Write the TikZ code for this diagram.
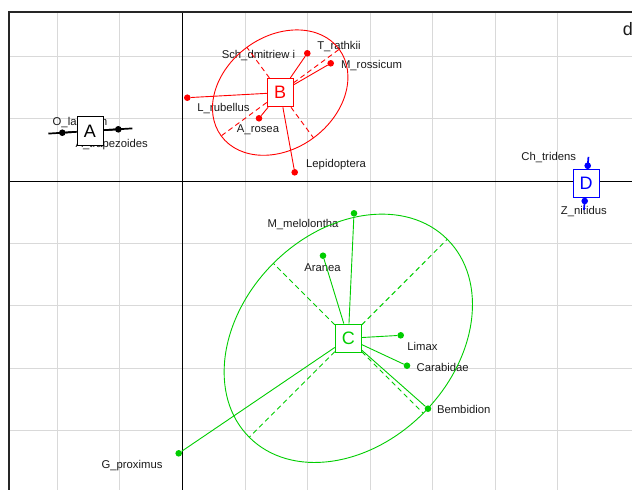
\documentclass[tikz,border=0pt]{standalone}
\usepackage{fontspec}
\setmainfont{Liberation Sans}
\definecolor{cred}{HTML}{FF0000}
\definecolor{cgreen}{HTML}{00CD00}
\definecolor{cblue}{HTML}{0000FF}
\definecolor{cgrid}{HTML}{D9D9D9}
\definecolor{cframe}{HTML}{262626}
\definecolor{ctext}{HTML}{1A1A1A}
\begin{document}
\begin{tikzpicture}[x=1pt,y=-1pt,
  gridl/.style={draw=cgrid,line width=1pt},
  axisl/.style={draw=black,line width=1pt},
  framel/.style={draw=cframe,line width=2pt},
  lbl/.style={anchor=base,inner sep=0pt,text=ctext,font=\fontsize{11.3}{12}\selectfont},
  pt/.style={circle,inner sep=0pt,minimum size=6.6pt},
  spk/.style={line width=0.9pt},
  thk/.style={line width=1.7pt},
  axd/.style={line width=0.9pt,dash pattern=on 5pt off 3.5pt},
  ell/.style={line width=0.9pt},
  grpbox/.style={draw,fill=white,line width=0.9pt,minimum width=26pt,minimum height=28.5pt,inner sep=0pt,font=\fontsize{18}{18}\selectfont}
]
\useasboundingbox (0,0) rectangle (632,490);
% grid
\foreach \x in {57.5,119.8,245,307.6,370,432.5,495,557.6}
  \draw[gridl] (\x,11.5) -- (\x,490);
\foreach \y in {56.5,118.5,243.4,305.8,368.2,430.6}
  \draw[gridl] (9,\y) -- (632,\y);
% axes
\draw[axisl] (182.2,11.5) -- (182.2,490);
\draw[axisl] (9,181) -- (632,181);
% frame
\draw[framel] (9,490) -- (9,11.5) -- (632,11.5);
\node[anchor=base west,inner sep=0pt,text=ctext,font=\fontsize{18}{18}\selectfont] (dlab) at (622.7,35) {d};

% labels
\node[lbl] (lOl) at (80,125) {O\_lacteum};
\node[lbl] (lAt) at (111.7,147.3) {A\_trapezoides};
\node[lbl] (lSd) at (258.5,58.3) {Sch\_dmitriew i};
\node[lbl] (lTr) at (339,49) {T\_rathkii};
\node[lbl] (lMr) at (371.5,68) {M\_rossicum};
\node[lbl] (lLr) at (223.5,111.7) {L\_rubellus};
\node[lbl] (lAr) at (258,132) {A\_rosea};
\node[lbl] (lLe) at (336,167.3) {Lepidoptera};
\node[lbl] (lCh) at (548.7,160.7) {Ch\_tridens};
\node[lbl] (lZn) at (583.8,214.7) {Z\_nitidus};
\node[lbl] (lMm) at (303,227.3) {M\_melolontha};
\node[lbl] (lAn) at (322.5,271) {Aranea};
\node[lbl] (lLi) at (422.5,350.7) {Limax};
\node[lbl] (lCa) at (442.7,371.7) {Carabidae};
\node[lbl] (lBe) at (463.7,413) {Bembidion};
\node[lbl] (lGp) at (132,468) {G\_proximus};

% group boxes
\node[grpbox,draw=black,text=black] (A) at (90,131) {A};
\node[grpbox,draw=cred,text=cred] (B) at (280.2,92.6) {B};
\node[grpbox,draw=cgreen,text=cgreen] (C) at (348.3,338.3) {C};
\node[grpbox,draw=cblue,text=cblue] (D) at (586.2,183.4) {D};

% points
\node[pt,fill=black] (pOl) at (62.3,132.7) {};
\node[pt,fill=black] (pAt) at (118.3,129.3) {};
\node[pt,fill=cred] (pTr) at (307.3,53.3) {};
\node[pt,fill=cred] (pMr) at (330.7,63.3) {};
\node[pt,fill=cred] (pLr) at (187.3,97.7) {};
\node[pt,fill=cred] (pAr) at (259,118.3) {};
\node[pt,fill=cred] (pLe) at (294.7,172.3) {};
\node[pt,fill=cblue] (pCh) at (587.7,165.7) {};
\node[pt,fill=cblue] (pZn) at (584.7,201) {};
\node[pt,fill=cgreen] (pMm) at (354,213.3) {};
\node[pt,fill=cgreen] (pAn) at (323,255.7) {};
\node[pt,fill=cgreen] (pLi) at (400.7,335.3) {};
\node[pt,fill=cgreen] (pCa) at (407,365.7) {};
\node[pt,fill=cgreen] (pBe) at (428,408.7) {};
\node[pt,fill=cgreen] (pGp) at (178.7,453.3) {};

% ellipse end coordinates
\coordinate (a1) at (48.3,133.6);
\coordinate (a2) at (132.3,128.4);
\coordinate (d1) at (588.45,156.9);
\coordinate (d2) at (583.95,209.8);
\coordinate (b1) at (339.2,49.3);
\coordinate (b2) at (221.2,135.9);
\coordinate (b3) at (313.5,137.9);
\coordinate (b4) at (246.9,47.3);
\coordinate (c1) at (447.3,239.3);
\coordinate (c2) at (249.3,437.3);
\coordinate (c3) at (423.3,413.3);
\coordinate (c4) at (273.3,263.3);

% group A (degenerate ellipse + spiders)
\draw[thk,black] (A) -- (a1);
\draw[thk,black] (A) -- (a2);
\draw[thk,black] (A) -- (pOl);
\draw[thk,black] (A) -- (pAt);

% group D
\draw[thk,cblue] (D) -- (d1);
\draw[thk,cblue] (D) -- (d2);
\draw[thk,cblue] (D) -- (pCh);
\draw[thk,cblue] (D) -- (pZn);

% group B
\draw[ell,cred,rotate around={36.3:(B.center)}] (B.center) ellipse [x radius=73.2pt, y radius=56.2pt];
\draw[axd,cred] (B) -- (b1);
\draw[axd,cred] (B) -- (b2);
\draw[axd,cred] (B) -- (b3);
\draw[axd,cred] (B) -- (b4);
\draw[spk,cred] (B) -- (pTr);
\draw[spk,cred] (B) -- (pMr);
\draw[spk,cred] (B) -- (pLr);
\draw[spk,cred] (B) -- (pAr);
\draw[spk,cred] (B) -- (pLe);

% group C
\draw[ell,cgreen,rotate around={45:(C.center)}] (C.center) ellipse [x radius=140pt, y radius=106pt];
\draw[axd,cgreen] (C) -- (c1);
\draw[axd,cgreen] (C) -- (c2);
\draw[axd,cgreen] (C) -- (c3);
\draw[axd,cgreen] (C) -- (c4);
\draw[spk,cgreen] (C) -- (pMm);
\draw[spk,cgreen] (C) -- (pAn);
\draw[spk,cgreen] (C) -- (pLi);
\draw[spk,cgreen] (C) -- (pCa);
\draw[spk,cgreen] (C) -- (pBe);
\draw[spk,cgreen] (C) -- (pGp);
\end{tikzpicture}
\end{document}
